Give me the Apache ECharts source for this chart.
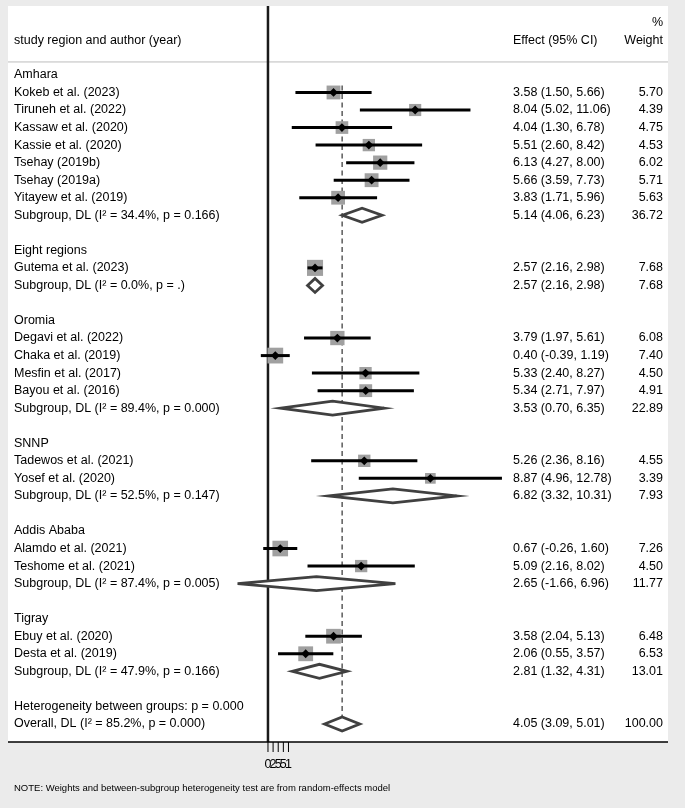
<!DOCTYPE html>
<html lang="en">
<head>
<meta charset="UTF-8">
<title>Forest plot</title>
<script src="https://cdn.jsdelivr.net/npm/echarts@6/dist/echarts.min.js"></script>
<style>
    html, body { margin: 0; padding: 0; background: #ebebeb; }
    #forest { width: 685px; height: 808px; }
</style>
</head>
<body>
<div id="forest"></div>
<script>
    // ---- data ----
    var regions = ['Amhara', 'Eight regions', 'Oromia', 'SNNP', 'Addis Ababa', 'Tigray'];

    var studyNames = [
        'Kokeb et al. (2023)', 'Tiruneh et al. (2022)', 'Kassaw et al. (2020)', 'Kassie et al. (2020)',
        'Tsehay (2019b)', 'Tsehay (2019a)', 'Yitayew et al. (2019)',
        'Gutema et al. (2023)',
        'Degavi et al. (2022)', 'Chaka et al. (2019)', 'Mesfin et al. (2017)', 'Bayou et al. (2016)',
        'Tadewos et al. (2021)', 'Yosef et al. (2020)',
        'Alamdo et al. (2021)', 'Teshome et al. (2021)',
        'Ebuy et al. (2020)', 'Desta et al. (2019)'
    ];
    var studyRegion = [0, 0, 0, 0, 0, 0, 0, 1, 2, 2, 2, 2, 3, 3, 4, 4, 5, 5];
    var studyEst = [3.58, 8.04, 4.04, 5.51, 6.13, 5.66, 3.83, 2.57, 3.79, 0.40, 5.33, 5.34, 5.26, 8.87, 0.67, 5.09, 3.58, 2.06];
    var studyLo = [1.50, 5.02, 1.30, 2.60, 4.27, 3.59, 1.71, 2.16, 1.97, -0.39, 2.40, 2.71, 2.36, 4.96, -0.26, 2.16, 2.04, 0.55];
    var studyHi = [5.66, 11.06, 6.78, 8.42, 8.00, 7.73, 5.96, 2.98, 5.61, 1.19, 8.27, 7.97, 8.16, 12.78, 1.60, 8.02, 5.13, 3.57];
    var studyWeight = [5.70, 4.39, 4.75, 4.53, 6.02, 5.71, 5.63, 7.68, 6.08, 7.40, 4.50, 4.91, 4.55, 3.39, 7.26, 4.50, 6.48, 6.53];

    var subI2 = ['34.4', '0.0', '89.4', '52.5', '87.4', '47.9'];
    var subP = ['0.166', '.', '0.000', '0.147', '0.005', '0.166'];
    var subEst = [5.14, 2.57, 3.53, 6.82, 2.65, 2.81];
    var subLo = [4.06, 2.16, 0.70, 3.32, -1.66, 1.32];
    var subHi = [6.23, 2.98, 6.35, 10.31, 6.96, 4.31];
    var subWeight = [36.72, 7.68, 22.89, 7.93, 11.77, 13.01];

    var overallCI = [4.05, 3.09, 5.01];
    var overallWeight = 100;
    var overallI2 = '85.2';
    var overallP = '0.000';
    var betweenP = '0.000';

    var tickValues = [0, 0.28, 0.56, 0.84, 1.12];
    var tickLabels = ['0', '2', '5', '5', '1'];

    // ---- build table rows ----
    function fmtCI(e, l, h) {
        return e.toFixed(2) + ' (' + l.toFixed(2) + ', ' + h.toFixed(2) + ')';
    }

    var rows = [];
    var studyData = [];
    var pooledData = [];
    var r = 0;
    regions.forEach(function (name, g) {
        rows.push({ row: r++, label: name });
        studyNames.forEach(function (s, i) {
            if (studyRegion[i] !== g) return;
            studyData.push([studyEst[i], r, studyLo[i], studyHi[i], studyWeight[i]]);
            rows.push({ row: r++, label: s, effect: fmtCI(studyEst[i], studyLo[i], studyHi[i]), weight: studyWeight[i].toFixed(2) });
        });
        pooledData.push([subEst[g], r, subLo[g], subHi[g]]);
        rows.push({ row: r++, label: 'Subgroup, DL (I\u00b2 = ' + subI2[g] + '%, p = ' + subP[g] + ')',
            effect: fmtCI(subEst[g], subLo[g], subHi[g]), weight: subWeight[g].toFixed(2) });
        r++; // blank line
    });
    rows.push({ row: r++, label: 'Heterogeneity between groups: p = ' + betweenP });
    var overallRow = r;
    pooledData.push([overallCI[0], r, overallCI[1], overallCI[2]]);
    rows.push({ row: r++, label: 'Overall, DL (I\u00b2 = ' + overallI2 + '%, p = ' + overallP + ')',
        effect: fmtCI(overallCI[0], overallCI[1], overallCI[2]), weight: overallWeight.toFixed(2) });

    // header texts sit above row 0
    rows.push({ row: -1.94, label: 'study region and author (year)', effect: 'Effect (95% CI)', weight: 'Weight' });
    rows.push({ row: -3.0, weight: '%' });

    var xMin = -14.2, xMax = 21.85;
    var yMin = -3.93, yMax = 38.03;

    // [x1, row1, x2, row2, kind] kind 0 = header rule, 1 = null line, 2 = overall dashed, 3 = bottom axis
    var refLines = [
        [xMin, -0.74, xMax, -0.74, 0],
        [0, yMin, 0, yMax, 1],
        [overallCI[0], 0.6, overallCI[0], overallRow, 2],
        [xMin, yMax, xMax, yMax, 3]
    ];

    var FONT = '12.5px "Liberation Sans", Arial, sans-serif';
    var colLeft = 14, colEffect = 513, colWeight = 663;

    var chart = echarts.init(document.getElementById('forest'));
    chart.setOption({
        animation: false,
        backgroundColor: '#ebebeb',
        grid: {
            left: 8, right: 17, top: 6, height: 736,
            show: true, backgroundColor: '#fff', borderWidth: 0,
            outerBoundsMode: 'none'
        },
        xAxis: { type: 'value', min: xMin, max: xMax, show: false },
        yAxis: { type: 'value', inverse: true, min: yMin, max: yMax, show: false },
        graphic: [{
            type: 'text', left: 14, top: 783,
            style: {
                text: 'NOTE: Weights and between-subgroup heterogeneity test are from random-effects model',
                font: '9.5px "Liberation Sans", Arial, sans-serif', fill: '#000'
            }
        }],
        series: [
            {
                type: 'custom', name: 'lines', clip: false, silent: true,
                data: refLines,
                renderItem: function (params, api) {
                    var p1 = api.coord([api.value(0), api.value(1)]);
                    var p2 = api.coord([api.value(2), api.value(3)]);
                    var kind = api.value(4);
                    var style = kind === 0 ? { stroke: '#bdbdbd', lineWidth: 1 }
                        : kind === 1 ? { stroke: '#1a1a1a', lineWidth: 2.5 }
                        : kind === 2 ? { stroke: '#333', lineWidth: 1.2, lineDash: [5, 3.5] }
                        : { stroke: '#000', lineWidth: 1.5 };
                    return { type: 'line', shape: { x1: p1[0], y1: p1[1], x2: p2[0], y2: p2[1] }, style: style };
                }
            },
            {
                type: 'custom', name: 'ticks', clip: false, silent: true,
                data: tickValues.map(function (v, i) { return [v, yMax, i]; }),
                renderItem: function (params, api) {
                    var p = api.coord([api.value(0), api.value(1)]);
                    return {
                        type: 'group', children: [
                            { type: 'line', shape: { x1: p[0], y1: p[1], x2: p[0], y2: p[1] + 10 }, style: { stroke: '#000', lineWidth: 1 } },
                            { type: 'text', style: { text: tickLabels[api.value(2)], x: p[0], y: p[1] + 16, font: '12.5px "Liberation Sans", Arial, sans-serif', fill: '#000', align: 'center', verticalAlign: 'top' } }
                        ]
                    };
                }
            },
            {
                type: 'custom', name: 'studies', clip: false, silent: true,
                data: studyData,
                renderItem: function (params, api) {
                    var row = api.value(1);
                    var c = api.coord([api.value(0), row]);
                    var lo = api.coord([api.value(2), row]);
                    var hi = api.coord([api.value(3), row]);
                    var side = 5.8 * Math.sqrt(api.value(4));
                    var d = 4.4;
                    return {
                        type: 'group', children: [
                            { type: 'rect', shape: { x: c[0] - side / 2, y: c[1] - side / 2, width: side, height: side }, style: { fill: '#a0a0a0' } },
                            { type: 'line', shape: { x1: lo[0], y1: lo[1], x2: hi[0], y2: hi[1] }, style: { stroke: '#000', lineWidth: 3 } },
                            { type: 'polygon', shape: { points: [[c[0] - d, c[1]], [c[0], c[1] - d], [c[0] + d, c[1]], [c[0], c[1] + d]] }, style: { fill: '#000' } }
                        ]
                    };
                }
            },
            {
                type: 'custom', name: 'pooled', clip: false, silent: true,
                data: pooledData,
                renderItem: function (params, api) {
                    var row = api.value(1);
                    var c = api.coord([api.value(0), row]);
                    var lo = api.coord([api.value(2), row]);
                    var hi = api.coord([api.value(3), row]);
                    var h = 7;
                    return {
                        type: 'polygon',
                        shape: { points: [[lo[0], c[1]], [c[0], c[1] - h], [hi[0], c[1]], [c[0], c[1] + h]] },
                        style: { fill: '#fff', stroke: '#404040', lineWidth: 2.8, lineJoin: 'miter' }
                    };
                }
            },
            {
                type: 'custom', name: 'table', clip: false, silent: true,
                data: rows.map(function (d, i) { return [0, d.row, i]; }),
                renderItem: function (params, api) {
                    var d = rows[api.value(2)];
                    var y = api.coord([0, api.value(1)])[1];
                    var kids = [];
                    if (d.label) kids.push({ type: 'text', style: { text: d.label, x: colLeft, y: y, font: FONT, fill: '#000', align: 'left', verticalAlign: 'middle' } });
                    if (d.effect) kids.push({ type: 'text', style: { text: d.effect, x: colEffect, y: y, font: FONT, fill: '#000', align: 'left', verticalAlign: 'middle' } });
                    if (d.weight) kids.push({ type: 'text', style: { text: d.weight, x: colWeight, y: y, font: FONT, fill: '#000', align: 'right', verticalAlign: 'middle' } });
                    return { type: 'group', children: kids };
                }
            }
        ]
    });
</script>
</body>
</html>
